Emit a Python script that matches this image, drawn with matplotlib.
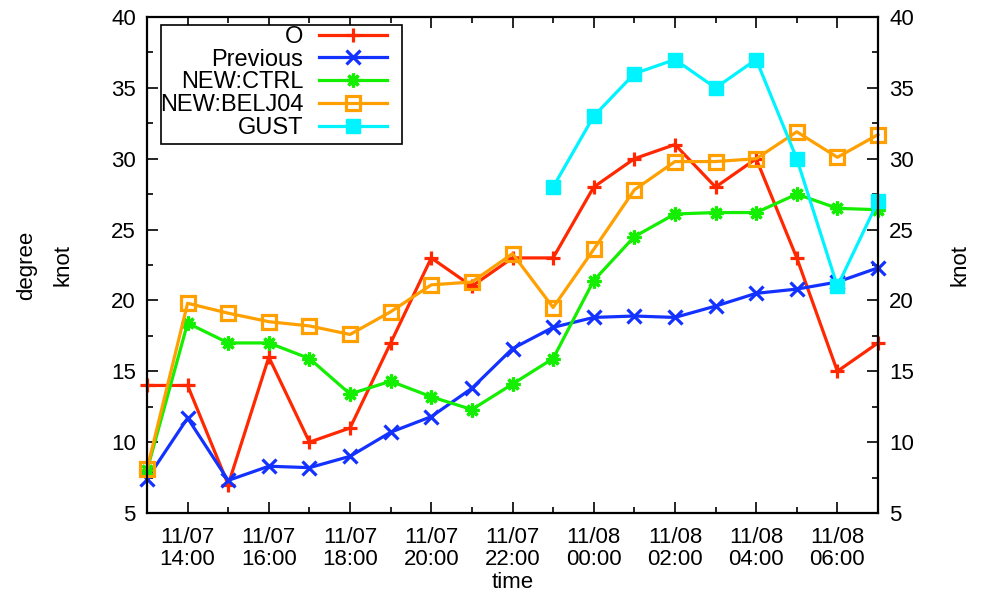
import numpy as np
import pandas as pd
import matplotlib
matplotlib.use("Agg")
from matplotlib import pyplot as plt
import matplotlib.dates as mdates
from matplotlib.ticker import MultipleLocator
from matplotlib.patches import Rectangle

plt.rcParams['font.family'] = ['Liberation Sans', 'DejaVu Sans']

# hourly times, 11/07 13:00 .. 11/08 07:00
times = pd.date_range("2013-11-07 13:00", periods=19, freq="h")

obs = [14, 14, 7, 16, 10, 11, 17, 23, 21, 23, 23, 28, 30, 31, 28, 30, 23, 15, 17]
previous = [7.4, 11.7, 7.3, 8.3, 8.2, 9.0, 10.7, 11.8, 13.8, 16.6, 18.1, 18.8, 18.9,
            18.8, 19.6, 20.5, 20.8, 21.3, 22.3]
ctrl = [8.0, 18.4, 17.0, 17.0, 15.9, 13.4, 14.3, 13.2, 12.3, 14.1, 15.9, 21.4, 24.5,
        26.1, 26.2, 26.2, 27.5, 26.5, 26.4]
belj04 = [8.1, 19.8, 19.1, 18.5, 18.2, 17.6, 19.2, 21.1, 21.3, 23.3, 19.5, 23.6, 27.8,
          29.8, 29.8, 30.0, 31.9, 30.1, 31.7]
gust = [np.nan] * 10 + [28, 33, 36, 37, 35, 37, 30, 21, 27]

fig = plt.figure(figsize=(9.9, 5.95), dpi=100)
ax = fig.add_axes([147 / 990, 82 / 595, 731 / 990, 496 / 595])

fs = 16
lw = 2.3
ax.plot(times, obs, color="#ff2800", lw=lw, marker="+", ms=10, mew=lw, label="O", clip_on=False)
ax.plot(times, previous, color="#1432ff", lw=lw, marker="x", ms=9.5, mew=lw, label="Previous", clip_on=False)
ax.plot(times, ctrl, color="#14ee00", lw=lw, marker=(8, 2, 0), ms=10, mew=lw, label="NEW:CTRL", clip_on=False)
ax.plot(times, belj04, color="#ffa000", lw=lw, marker="s", ms=10, mew=lw, mfc="none",
        label="NEW:BELJ04", clip_on=False)
ax.plot(times, gust, color="#00f4ff", lw=lw, marker="s", ms=9.5, label="GUST", clip_on=False)

ax.set_xlim(times[0], times[-1])
ax.set_ylim(5, 40)
ax.yaxis.set_major_locator(MultipleLocator(5))
ax.yaxis.set_minor_locator(MultipleLocator(2.5))
ax.xaxis.set_major_locator(mdates.HourLocator(byhour=range(0, 24, 2)))
ax.xaxis.set_minor_locator(mdates.HourLocator())
ax.xaxis.set_major_formatter(mdates.DateFormatter("%m/%d\n%H:%M"))

ax.tick_params(which="both", direction="in", top=True, right=True, labelright=True,
               labelsize=fs, width=1.2)
ax.tick_params(which="major", length=8, pad=8)
ax.tick_params(axis="x", which="major", pad=10)
ax.tick_params(which="minor", length=4)
for lab in ax.get_xticklabels():
    lab.set_linespacing(1.05)
for s in ax.spines.values():
    s.set_linewidth(1.6)

ax.set_xlabel("time", fontsize=fs, labelpad=2)
fig.text(27 / 990, 1 - 265 / 595, "degree", rotation=90, fontsize=fs, ha="center", va="center")
fig.text(63 / 990, 1 - 265 / 595, "knot", rotation=90, fontsize=fs, ha="center", va="center")
fig.text(960 / 990, 1 - 265 / 595, "knot", rotation=90, fontsize=fs, ha="center", va="center")

# gnuplot style key: box drawn separately, entries right aligned
box = Rectangle((14 / 731, 369 / 496), 241 / 731, 119 / 496, transform=ax.transAxes,
                facecolor="white", edgecolor="black", lw=1.2, zorder=4.5)
ax.add_patch(box)
leg = ax.legend(loc="upper right", bbox_to_anchor=(240 / 731, 487 / 496), borderaxespad=0,
                fontsize=17, markerfirst=False, frameon=False, handlelength=2.9,
                handletextpad=0.65, labelspacing=0.03, borderpad=0)

fig.savefig("out.png", dpi=100)
